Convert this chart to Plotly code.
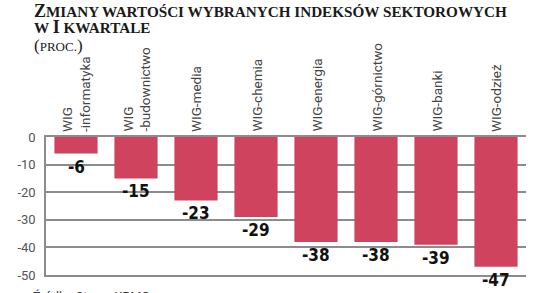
import plotly.graph_objects as go

categories = ["WIG<br>-informatyka", "WIG<br>-budownictwo", "WIG-media", "WIG-chemia",
              "WIG-energia", "WIG-górnictwo", "WIG-banki", "WIG-odzież"]
values = [-6, -15, -23, -29, -38, -38, -39, -47]
tick_vals = [0, -10, -20, -30, -40, -50]
tick_text = ["0", "-10", "-20", "-30", "-40", "-50"]

BAR = "#CF435F"
GRID = "#8c8c8c"
LABEL_FONT = "Roboto"
VALUE_FONT = "DejaVu Sans Condensed"
TITLE_FONT = "Liberation Serif"

x = list(range(len(categories)))
fig = go.Figure(go.Bar(x=x, y=values, marker=dict(color=BAR, line=dict(width=0)),
                       width=0.72, hoverinfo="skip"))

# plot area in pixels: x 46..526, y 137..277 (from top)
def px(xp):
    return (xp - 46) / 480

def py(yp):
    return (277 - yp) / 140

anns = []
for i, (c, v) in enumerate(zip(categories, values)):
    anns.append(dict(x=i, y=0, xref="x", yref="y", text=c, textangle=-90,
                     showarrow=False, xanchor="center", yanchor="bottom", yshift=3,
                     font=dict(family=LABEL_FONT, size=13.5, color="#444"),
                     align="left"))
    anns.append(dict(x=i, y=v, xref="x", yref="y", text="<b>%d</b>" % v,
                     showarrow=False, xanchor="center", yanchor="top", yshift=-1,
                     font=dict(family=VALUE_FONT, size=17, color="#111")))

SC = 15.2
BIG = 18
title1 = ("<b><span style='font-size:%spx'>Z</span>MIANY WARTOŚCI WYBRANYCH INDEKSÓW SEKTOROWYCH</b>" % BIG)
title2 = ("<b>W <span style='font-size:%spx'>I</span> KWARTALE</b>" % BIG)
title3 = "<span style='font-size:17px'>(</span>PROC.<span style='font-size:17px'>)</span>"
for t, yy, sz in [(title1, -3.5, SC), (title2, 13.5, SC), (title3, 32.7, 13)]:
    anns.append(dict(x=px(32), y=py(yy), xref="paper", yref="paper", text=t, showarrow=False,
                     xanchor="left", yanchor="top",
                     font=dict(family=TITLE_FONT, size=sz, color="#1a1a1a")))
anns.append(dict(text="<i>Źródło: Stooq, KPMG</i>", x=px(29), y=py(289), xref="paper", yref="paper",
                 showarrow=False, xanchor="left", yanchor="top",
                 font=dict(family=LABEL_FONT, size=13, color="#333")))

fig.update_layout(
    width=536, height=293,
    margin=dict(l=46, r=10, t=137, b=16),
    paper_bgcolor="white", plot_bgcolor="white",
    showlegend=False,
    annotations=anns,
    xaxis=dict(range=[-0.5, 7.5], showticklabels=False, showgrid=False, zeroline=False,
               showline=True, mirror=True, linecolor=GRID, linewidth=1.5, ticks=""),
    yaxis=dict(range=[-50, 0], tickvals=tick_vals, ticktext=tick_text, showgrid=True,
               gridcolor=GRID, gridwidth=1.5, zeroline=False, showline=True,
               linecolor=GRID, linewidth=1.5, ticks="", ticklabelstandoff=6,
               tickfont=dict(family=LABEL_FONT, size=13, color="#555")),
)
fig.write_html("out.html")
